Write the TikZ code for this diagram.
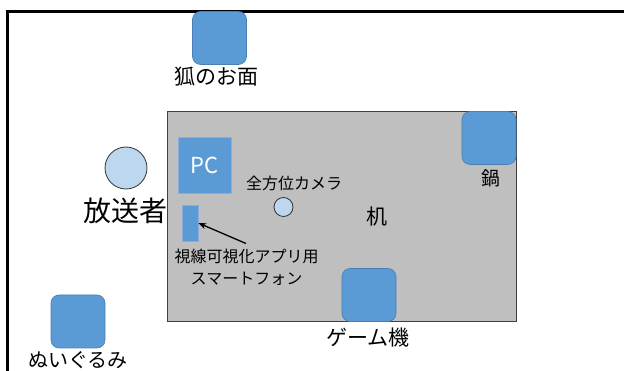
\documentclass[tikz,border=0pt]{standalone}
\usepackage{fontspec}
\setmainfont{Noto Sans CJK JP}
\newfontfamily\jp{Noto Sans CJK JP}
\usetikzlibrary{arrows.meta}
\definecolor{itemblue}{HTML}{5B9BD5}
\definecolor{itemedge}{HTML}{4A7FB5}
\definecolor{lightedge}{HTML}{8FAADC}
\definecolor{personfill}{HTML}{BDD7EE}
\definecolor{deskfill}{HTML}{BFBFBF}
\definecolor{deskedge}{HTML}{404040}
\tikzset{
  item/.style={rectangle, rounded corners=8pt, fill=itemblue, draw=itemedge, line width=0.6pt,
    minimum width=54pt, minimum height=53pt, inner sep=0pt},
  sqbox/.style={rectangle, fill=itemblue, draw=lightedge, line width=0.6pt, inner sep=0pt},
  person/.style={circle, fill=personfill, draw=black!80, line width=0.8pt, inner sep=0pt},
  lbl/.style={inner sep=0pt, font=\jp, text=black},
}
\begin{document}
\begin{tikzpicture}[x=1pt, y=-1pt]
\useasboundingbox (0,0) rectangle (624,371);
% frame
\coordinate (ftl) at (7.5,11.5);
\coordinate (ftr) at (630,11.5);
\coordinate (fbl) at (7.5,380);
\draw[line width=2.4pt] (fbl) -- (ftl) -- (ftr);
% desk
\node[rectangle, fill=deskfill, draw=deskedge, line width=0.8pt, minimum width=349pt, minimum height=210pt, inner sep=0pt] (desk) at (341.5,216) {};
\node[lbl, font=\jp\fontsize{21}{21}\selectfont] (desklbl) at (377,217) {机};
% fox mask
\node[item] (fox) at (219.5,38) {};
\node[lbl, font=\jp\fontsize{21}{21}\selectfont] (foxlbl) at (216,77) {狐のお面};
% pot
\node[item] (pot) at (489,138) {};
\node[lbl, font=\jp\fontsize{19}{19}\selectfont] (potlbl) at (491,178) {鍋};
% PC
\node[sqbox, minimum width=53pt, minimum height=56pt, text=white, font=\jp\fontsize{22}{22}\selectfont] (pc) at (204.5,165.5) {PC};
% broadcaster
\node[person, minimum size=42pt] (caster) at (126,168) {};
\node[lbl, font=\jp\fontsize{28}{28}\selectfont] (casterlbl) at (125,211) {放送者};
% camera
\node[person, minimum size=19pt] (cam) at (283.5,207) {};
\node[lbl, font=\jp\fontsize{16}{16}\selectfont] (camlbl) at (294,183) {全方位カメラ};
% smartphone
\node[sqbox, minimum width=16pt, minimum height=36pt] (phone) at (190,223) {};
\node[lbl, font=\jp\fontsize{16}{22}\selectfont, align=center] (phonelbl) at (246.5,267) {視線可視化アプリ用\\スマートフォン};
\coordinate (arrstart) at (246,243.5);
\draw[-{Stealth[length=8pt,width=6pt]}, line width=1.3pt] (arrstart) -- (phone.east);
% game console
\node[item] (game) at (369,295) {};
\node[lbl, font=\jp\fontsize{21}{21}\selectfont] (gamelbl) at (368,338) {ゲーム機};
% stuffed toy
\node[item] (toy) at (78,321.5) {};
\node[lbl, font=\jp\fontsize{20}{20}\selectfont] (toylbl) at (78,360) {ぬいぐるみ};
\end{tikzpicture}
\end{document}
